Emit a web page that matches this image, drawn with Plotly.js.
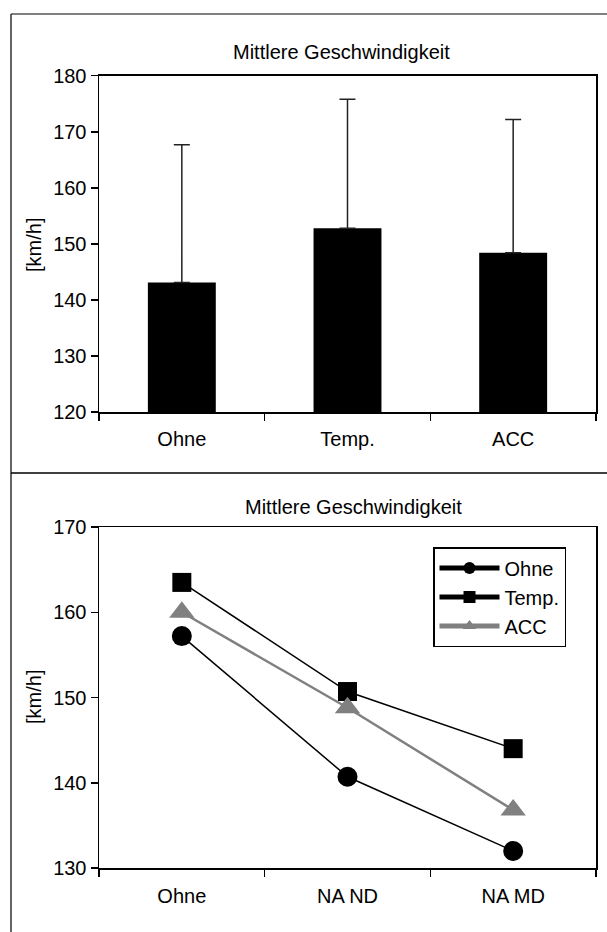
<!DOCTYPE html>
<html>
<head>
<meta charset="utf-8">
<script src="https://cdn.plot.ly/plotly-3.0.1.min.js"></script>
<style>
  html, body { margin: 0; padding: 0; background: #fff; }
  #chart { width: 607px; height: 932px; }
</style>
</head>
<body>
<div id="chart"></div>
<script>
// Upper panel: mean speed per assistance variant, with standard deviation (upper whisker only)
const barCategories = ["Ohne", "Temp.", "ACC"];
const barMeans = [143.1, 152.8, 148.4];
const barSd = [24.6, 23.0, 23.8];

// Lower panel: mean speed per road situation for each variant
const lineCategories = ["Ohne", "NA ND", "NA MD"];
const seriesOhne = [157.2, 140.7, 132.0];
const seriesTemp = [163.5, 150.7, 144.0];
const seriesAcc = [160.0, 148.8, 136.8];

const seriesNames = ["Ohne", "Temp.", "ACC"];
const titleText = "Mittlere Geschwindigkeit";
const unitText = "[km/h]";

const W = 607, H = 932;
const px = v => v / W;          // horizontal pixel -> paper
const py = v => 1 - v / H;      // vertical pixel -> paper

const FONT = "Liberation Sans, Arial, sans-serif";
const FS = 20;

const axisCommon = {
  showgrid: false,
  zeroline: false,
  showline: true,
  linecolor: "#000",
  linewidth: 1.5,
  mirror: true,
  ticks: "outside",
  ticklen: 7,
  tickwidth: 1.5,
  tickcolor: "#000",
  tickfont: { family: FONT, size: FS, color: "#000" },
  fixedrange: true
};

const traces = [
  {
    type: "bar",
    x: barCategories,
    y: barMeans,
    xaxis: "x",
    yaxis: "y",
    marker: { color: "#000" },
    showlegend: false,
    hoverinfo: "skip",
    error_y: {
      type: "data",
      symmetric: false,
      array: barSd,
      arrayminus: barSd.map(() => 0),
      color: "#222",
      thickness: 1.5,
      width: 8
    }
  },
  {
    type: "scatter",
    mode: "lines+markers",
    name: seriesNames[0],
    x: lineCategories,
    y: seriesOhne,
    xaxis: "x2",
    yaxis: "y2",
    line: { color: "#000", width: 1.5 },
    marker: { symbol: "circle", size: 20, color: "#000" }
  },
  {
    type: "scatter",
    mode: "lines+markers",
    name: seriesNames[1],
    x: lineCategories,
    y: seriesTemp,
    xaxis: "x2",
    yaxis: "y2",
    line: { color: "#000", width: 1.5 },
    marker: { symbol: "square", size: 19, color: "#000" }
  },
  {
    type: "scatter",
    mode: "lines+markers",
    name: seriesNames[2],
    x: lineCategories,
    y: seriesAcc,
    xaxis: "x2",
    yaxis: "y2",
    line: { color: "#808080", width: 2.5 },
    marker: { symbol: "triangle-up", size: 22, color: "#808080" }
  }
];

const layout = {
  width: W,
  height: H,
  margin: { l: 0, r: 0, t: 0, b: 0, pad: 0 },
  paper_bgcolor: "#fff",
  plot_bgcolor: "#fff",
  font: { family: FONT, size: FS, color: "#000" },
  bargap: 0.59,
  xaxis: Object.assign({}, axisCommon, {
    domain: [px(99), px(596)],
    anchor: "y",
    type: "category",
    tickson: "boundaries",
    ticklabelstandoff: 8,
    range: [-0.5, 2.5]
  }),
  yaxis: Object.assign({}, axisCommon, {
    domain: [py(412), py(75.7)],
    anchor: "x",
    range: [120, 180],
    dtick: 10,
    tick0: 120
  }),
  xaxis2: Object.assign({}, axisCommon, {
    domain: [px(99), px(596)],
    anchor: "y2",
    type: "category",
    tickson: "boundaries",
    ticklabelstandoff: 9,
    range: [-0.5, 2.5]
  }),
  yaxis2: Object.assign({}, axisCommon, {
    domain: [py(868), py(527)],
    anchor: "x2",
    range: [130, 170],
    dtick: 10,
    tick0: 130
  }),
  showlegend: true,
  legend: {
    x: px(433),
    y: py(547),
    xanchor: "left",
    yanchor: "top",
    bgcolor: "#fff",
    bordercolor: "#000",
    borderwidth: 1.5,
    itemsizing: "constant",
    itemwidth: 60,
    font: { family: FONT, size: FS, color: "#000" },
    tracegroupgap: 0
  },
  annotations: [
    { text: titleText, xref: "paper", yref: "paper", x: px(341), y: py(52),
      xanchor: "center", yanchor: "middle", showarrow: false,
      font: { family: FONT, size: FS, color: "#000" } },
    { text: titleText, xref: "paper", yref: "paper", x: px(353), y: py(507),
      xanchor: "center", yanchor: "middle", showarrow: false,
      font: { family: FONT, size: FS, color: "#000" } },
    { text: unitText, xref: "paper", yref: "paper", x: px(34), y: py(245),
      xanchor: "center", yanchor: "middle", showarrow: false, textangle: -90,
      font: { family: FONT, size: FS, color: "#000" } },
    { text: unitText, xref: "paper", yref: "paper", x: px(34), y: py(697),
      xanchor: "center", yanchor: "middle", showarrow: false, textangle: -90,
      font: { family: FONT, size: FS, color: "#000" } }
  ],
  shapes: [
    // outer frame: top edge, left edge and the divider between the two panels
    { type: "line", xref: "paper", yref: "paper", x0: px(11), x1: 1, y0: py(14), y1: py(14),
      line: { color: "#555", width: 1.5 } },
    { type: "line", xref: "paper", yref: "paper", x0: px(11), x1: px(11), y0: py(14), y1: 0,
      line: { color: "#333", width: 1.5 } },
    { type: "line", xref: "paper", yref: "paper", x0: px(11), x1: 1, y0: py(473), y1: py(473),
      line: { color: "#000", width: 1.5 } }
  ]
};

Plotly.newPlot("chart", traces, layout, { staticPlot: true, displayModeBar: false });
</script>
</body>
</html>
